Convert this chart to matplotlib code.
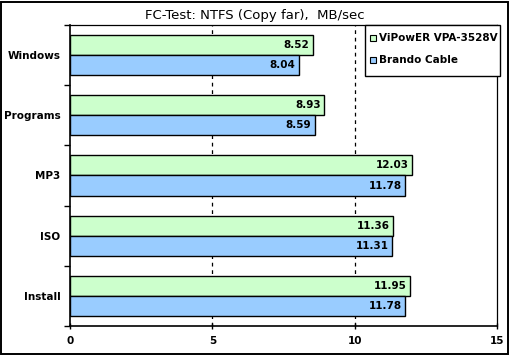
import matplotlib
matplotlib.use("Agg")
import matplotlib.pyplot as plt
from matplotlib.patches import Rectangle
import numpy as np

categories = ["Windows", "Programs", "MP3", "ISO", "Install"]
series_names = ["ViPowER VPA-3528V", "Brando Cable"]
vipower = [8.52, 8.93, 12.03, 11.36, 11.95]
brando = [8.04, 8.59, 11.78, 11.31, 11.78]
colors = ["#ccffcc", "#99ccff"]
xticks = [0, 5, 10, 15]

plt.rcParams['font.family'] = ['DejaVu Sans']

W, H = 510, 355
fig = plt.figure(figsize=(5.1, 3.55), dpi=100)
fig.patch.set_facecolor("white")
fig.add_artist(Rectangle((1/W, 1/H), 507/W, 352/H, transform=fig.transFigure,
                         fill=False, edgecolor="black", linewidth=1.4))

ax = fig.add_axes([70/W, 1-326/H, 427/W, 301/H])
n = len(categories)
y = np.arange(n)
h = 0.333
ax.barh(y - h/2, vipower, height=h, color=colors[0], edgecolor="black", linewidth=1, zorder=3)
ax.barh(y + h/2, brando, height=h, color=colors[1], edgecolor="black", linewidth=1, zorder=3)

for i in range(n):
    ax.text(vipower[i] - 0.12, y[i] - h/2, f"{vipower[i]:.2f}", ha="right", va="center",
            fontsize=7.5, fontweight="bold", zorder=4)
    ax.text(brando[i] - 0.12, y[i] + h/2, f"{brando[i]:.2f}", ha="right", va="center",
            fontsize=7.5, fontweight="bold", zorder=4)

ax.set_xlim(0, 15)
ax.set_ylim(n - 0.5, -0.5)
ax.set_xticks(xticks)
ax.set_xticklabels([str(t) for t in xticks], fontsize=7.5, fontweight="bold")
ax.set_yticks(y)
ax.set_yticklabels(categories, fontsize=7.5, fontweight="bold")
ax.set_yticks(np.arange(n + 1) - 0.5, minor=True)
ax.tick_params(axis="y", which="major", length=0, pad=7)
ax.tick_params(axis="y", which="minor", length=4, direction="out", width=1)
ax.tick_params(axis="x", which="major", length=4, direction="inout", width=1, pad=5)
for xv in [5, 10]:
    ax.axvline(xv, color="black", linestyle=(0, (3, 3)), linewidth=0.9, zorder=1)
for s in ["top", "right", "left", "bottom"]:
    ax.spines[s].set_linewidth(1.2)
ax.spines["top"].set_linewidth(0.9)
ax.spines["right"].set_linewidth(0.9)

fig.text(0.5, 1 - 15/H, "FC-Test: NTFS (Copy far),  MB/sec", fontsize=9.5, ha="center", va="center")

# legend drawn manually
lx0, ly0, lx1, ly1 = 365, 25, 500, 76
fig.add_artist(Rectangle((lx0/W, 1-ly1/H), (lx1-lx0)/W, (ly1-ly0)/H, transform=fig.transFigure,
                         facecolor="white", edgecolor="black", linewidth=1, zorder=10))
rows = [38, 60]
for name, c, ry in zip(series_names, colors, rows):
    fig.add_artist(Rectangle((370/W, 1-(ry+3)/H), 6/W, 6/H, transform=fig.transFigure,
                             facecolor=c, edgecolor="black", linewidth=0.8, zorder=11))
    fig.text(379/W, 1-ry/H, name, fontsize=7.5, fontweight="bold", ha="left", va="center", zorder=12)

fig.savefig("out.png", dpi=100, facecolor="white")
